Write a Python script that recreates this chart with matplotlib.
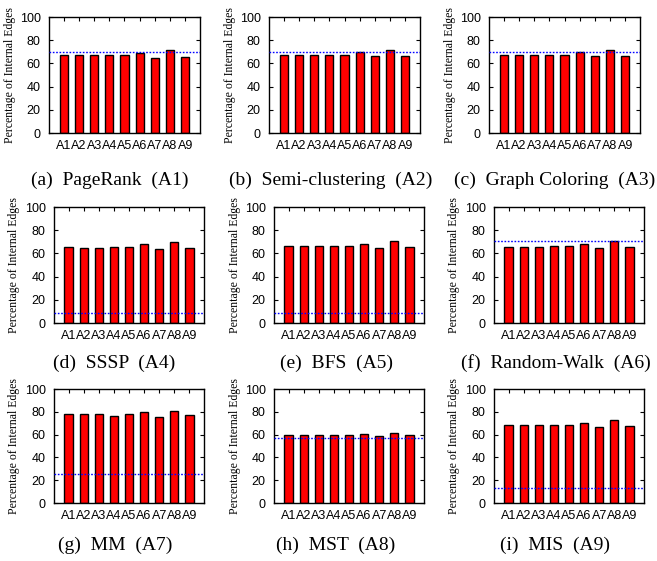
import matplotlib
matplotlib.use("Agg")
import matplotlib.pyplot as plt
import numpy as np

categories = ["A1", "A2", "A3", "A4", "A5", "A6", "A7", "A8", "A9"]

pagerank     = [67.0, 67.0, 67.0, 67.5, 67.0, 69.3, 64.7, 71.3, 65.8]
semiclust    = [67.0, 67.0, 67.0, 67.5, 67.5, 69.5, 66.0, 71.5, 66.5]
graphcolor   = [67.0, 67.0, 67.0, 67.5, 67.5, 69.5, 66.0, 71.5, 66.5]
sssp         = [65.2, 65.0, 65.0, 65.8, 65.8, 67.8, 64.0, 69.5, 64.7]
bfs          = [66.0, 66.0, 66.0, 66.7, 66.7, 68.4, 65.0, 70.4, 65.2]
randomwalk   = [65.8, 65.8, 65.8, 66.4, 66.4, 68.1, 64.7, 70.4, 65.2]
mm           = [78.1, 78.0, 78.0, 76.1, 78.4, 79.6, 75.8, 80.8, 77.0]
mst          = [59.5, 59.5, 59.3, 60.0, 60.0, 60.3, 58.9, 61.2, 59.8]
mis          = [68.2, 68.2, 68.2, 68.8, 68.8, 70.3, 67.0, 72.6, 67.6]

baselines = [70.1, 70.0, 70.0, 8.9, 8.9, 71.0, 25.4, 56.6, 12.8]

captions = ["(a)  PageRank  (A1)", "(b)  Semi-clustering  (A2)", "(c)  Graph Coloring  (A3)",
            "(d)  SSSP  (A4)", "(e)  BFS  (A5)", "(f)  Random-Walk  (A6)",
            "(g)  MM  (A7)", "(h)  MST  (A8)", "(i)  MIS  (A9)"]
series = [pagerank, semiclust, graphcolor, sssp, bfs, randomwalk, mm, mst, mis]
yticks = [0, 20, 40, 60, 80, 100]

W, H = 657, 561
fig = plt.figure(figsize=(W / 100, H / 100), dpi=100)

# axes boxes in pixels: (top, height, lefts, width)
rows = [(17, 116, [49, 269, 489], 151),
        (207, 116, [54, 274, 494], 150),
        (389, 114, [54, 274, 494], 150)]
cap_y = [180, 363, 545]
cap_x = [[110, 331, 555], [114, 336, 556], [115, 336, 555]]

sans = ["Liberation Sans", "DejaVu Sans"]
serif = ["Liberation Serif", "DejaVu Serif"]

k = 0
for r, (top, hgt, lefts, wid) in enumerate(rows):
    for c, left in enumerate(lefts):
        ax = fig.add_axes([left / W, 1 - (top + hgt) / H, wid / W, hgt / H])
        x = np.arange(len(categories))
        ax.bar(x, series[k], width=0.55, color="#ff0000", edgecolor="black",
               linewidth=1.0, zorder=2)
        ax.axhline(baselines[k], color="blue", linestyle=(0, (1.2, 1.2)),
                   linewidth=1.0, zorder=3)
        ax.set_xlim(-0.97, 8.97)
        ax.set_ylim(0, 100)
        ax.set_yticks(yticks)
        ax.set_yticklabels([str(v) for v in yticks], fontfamily=sans, fontsize=9)
        ax.set_xticks(x)
        ax.set_xticklabels(categories, fontfamily=sans, fontsize=9)
        ax.tick_params(axis="both", direction="in", top=True, right=True,
                       length=3, width=0.8)
        ax.tick_params(axis="y", pad=6)
        ax.tick_params(axis="x", pad=5)
        for s in ax.spines.values():
            s.set_linewidth(1.0)
        ax.set_ylabel("Percentage of Internal Edges", fontfamily=serif,
                      fontsize=8.5, labelpad=3)
        fig.text(cap_x[r][c] / W, 1 - cap_y[r] / H, captions[k],
                 fontfamily=serif, fontsize=14, ha="center", va="center")
        k += 1

fig.savefig("out.png", dpi=100)
